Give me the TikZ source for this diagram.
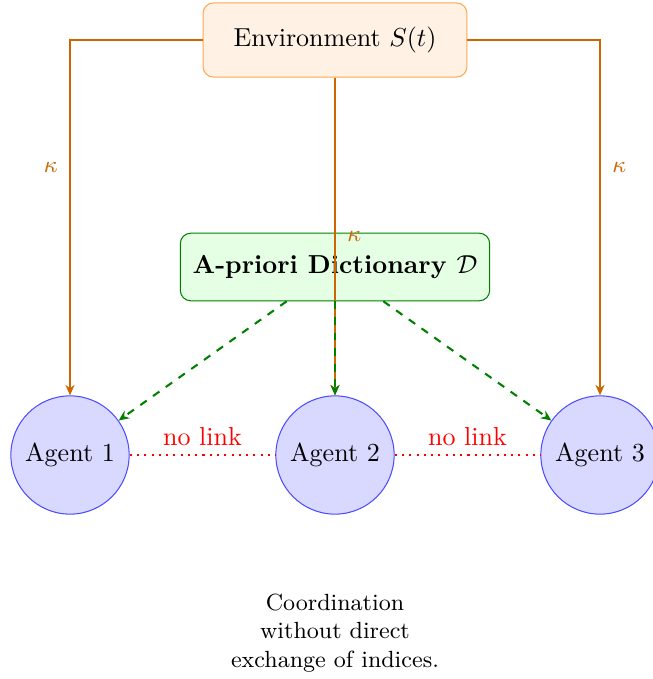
\documentclass[tikz,border=0pt]{standalone}
\usetikzlibrary{arrows.meta}
\begin{document}
\begin{tikzpicture}[x=0.01352cm,y=-0.01352cm,
 envbox/.style={draw=orange!70, fill=orange!10, rounded corners=4pt, minimum width=101.5pt, minimum height=28.5pt},
 dictbox/.style={draw=green!50!black, fill=green!10, rounded corners=4pt, minimum width=119pt, minimum height=26pt, font=\bfseries},
 agent/.style={circle, draw=blue!70, fill=blue!15, minimum size=45.5pt, inner sep=0pt},
 envarrow/.style={draw=orange!80!black, thick, -{Stealth[length=4pt,width=3.5pt]}},
 kap/.style={text=orange!80!black, font=\small},
 dictarrow/.style={draw=green!50!black, thick, dashed, -{Stealth[length=4pt,width=3.5pt]}},
 nolink/.style={draw=red, thick, dotted},
 nolinklabel/.style={text=red},
 caption/.style={align=center, font=\small}
]
\useasboundingbox (0,0) rectangle (653,679);
\node[envbox] (env) at (335,40) {Environment $S(t)$};
\node[dictbox] (dict) at (335,267) {A-priori Dictionary $\mathcal{D}$};
\node[agent] (a1) at (70,455) {Agent 1};
\node[agent] (a2) at (335,455) {Agent 2};
\node[agent] (a3) at (600,455) {Agent 3};
\node[caption] (cap) at (335,633) {Coordination\\without direct\\exchange of indices.};

\draw[envarrow] (env.west) -| node[kap, pos=0.68, left, xshift=-1pt] {$\kappa$} (a1.north);
\draw[envarrow] (env.east) -| node[kap, pos=0.68, right, xshift=1pt] {$\kappa$} (a3.north);
\draw[envarrow] (env.south) -- node[kap, pos=0.5, right, xshift=1pt] {$\kappa$} (a2.north);

\draw[dictarrow] (dict) -- (a1);
\draw[dictarrow] (dict) -- (a2);
\draw[dictarrow] (dict) -- (a3);

\draw[nolink] (a1) -- node[nolinklabel, above] {no link} (a2);
\draw[nolink] (a2) -- node[nolinklabel, above] {no link} (a3);
\end{tikzpicture}
\end{document}
